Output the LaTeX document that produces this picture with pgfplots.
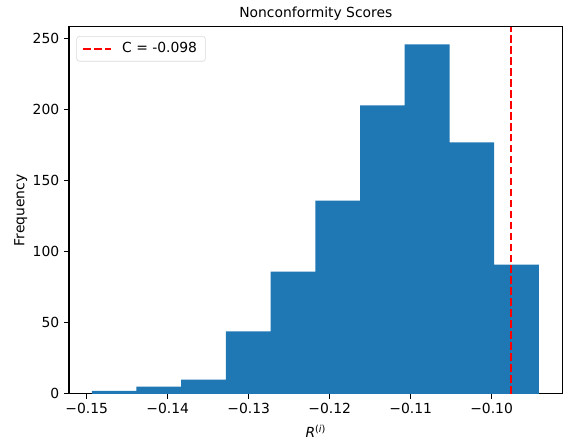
\documentclass[border=0pt]{standalone}
\usepackage{fontspec}
\setmainfont{DejaVu Sans}
\usepackage{pgfplots}
\pgfplotsset{compat=1.18}
\definecolor{mplblue}{HTML}{1F77B4}
\begin{document}
\begin{tikzpicture}
\begin{axis}[
  scale only axis,
  width=355.5pt, height=264.2pt,
  xmin=-0.15219, xmax=-0.09123,
  ymin=0, ymax=258.3,
  xtick={-0.15,-0.14,-0.13,-0.12,-0.11,-0.10},
  xticklabels={−0.15,−0.14,−0.13,−0.12,−0.11,−0.10},
  ytick={0,50,100,150,200,250},
  /pgf/number format/assume math mode=true,
  tick align=outside,
  major tick length=3.5pt,
  xtick pos=bottom, ytick pos=left,
  tick style={black, line width=0.8pt},
  axis line style={line width=0.8pt},
  every tick label/.append style={font=\fontsize{10}{12}\selectfont},
  title={Nonconformity Scores},
  title style={font=\fontsize{10}{12}\selectfont, yshift=-5pt},
  xlabel={\textit{R}\textsuperscript{(\textit{i})}},
  ylabel={Frequency},
  label style={font=\fontsize{10}{12}\selectfont},
  ylabel style={yshift=-3pt},
  xlabel style={yshift=-1pt},
  legend style={at={(0.015,0.975)}, anchor=north west, draw=black!15, rounded corners=2pt, font=\fontsize{10}{12}\selectfont, inner xsep=4pt, inner ysep=2.5pt},
  legend cell align=left,
  legend image code/.code={\draw[#1] (0pt,0pt) -- (20pt,0pt); \path[draw=none,fill=none] (0pt,0pt) rectangle (26pt,0.1pt);},
]
\addplot[ybar interval, fill=mplblue, draw=none, forget plot] coordinates {
(-0.14938,2) (-0.14386,5) (-0.13834,10) (-0.13281,44) (-0.12729,86)
(-0.12177,136) (-0.11625,203) (-0.11073,246) (-0.10520,177) (-0.09968,91) (-0.09416,91)
};
\addplot[red, line width=1.5pt, dash pattern=on 5.5pt off 2.4pt] coordinates {(-0.09762,0) (-0.09762,258.3)};
\addlegendentry{C = -0.098}
\end{axis}
\pgfresetboundingbox
\path (current axis.south west) ++(-49.7pt,-35.3pt) coordinate (bbsw);
\path (current axis.north east) ++(5.3pt,19.4pt) coordinate (bbne);
\useasboundingbox (bbsw) rectangle (bbne);
\end{tikzpicture}
\end{document}
